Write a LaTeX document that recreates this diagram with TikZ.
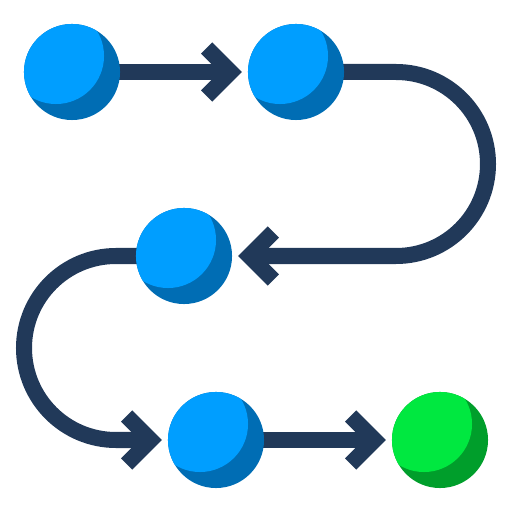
\documentclass[tikz,border=0pt]{standalone}
\usetikzlibrary{calc,backgrounds}
\definecolor{lblue}{RGB}{0,158,255}
\definecolor{dblue}{RGB}{0,109,180}
\definecolor{navy}{RGB}{33,57,89}
\definecolor{lgreen}{RGB}{0,232,64}
\definecolor{dgreen}{RGB}{0,158,43}
\begin{document}
\begin{tikzpicture}[x=0.01cm,y=0.01cm,
  ball/.style 2 args={circle, minimum size=0.96cm, inner sep=0pt, fill=#2,
    path picture={\fill[#1] ([xshift=-0.16cm,yshift=0.16cm]path picture bounding box.center) circle (0.48cm);}},
  conn/.style={draw=navy, line width=0.16cm, line cap=butt},
  chev/.style={draw=navy, line width=0.16cm, line cap=butt, line join=miter}]
\useasboundingbox (0,0) rectangle (512,512);
\node[ball={lblue}{dblue}] (c1) at (72,440) {};
\node[ball={lblue}{dblue}] (c2) at (296,440) {};
\node[ball={lblue}{dblue}] (c3) at (184,256) {};
\node[ball={lblue}{dblue}] (c4) at (216,72) {};
\node[ball={lgreen}{dgreen}] (c5) at (440,72) {};
\coordinate (v1) at ($(c2.west)+(-16.6,0)$);
\coordinate (v2) at ($(c3.east)+(16.6,0)$);
\coordinate (v3) at ($(c4.west)+(-16.6,0)$);
\coordinate (v4) at ($(c5.west)+(-16.6,0)$);
\begin{scope}[on background layer]
\draw[conn] (c1.center) -- (v1);
\draw[conn] (c2.center) -- (396,440) arc (90:-90:92) -- (v2);
\draw[conn] (c3.center) -- (116,256) arc (90:270:92) -- (v3);
\draw[conn] (c4.center) -- (v4);
\end{scope}
\draw[chev] ($(v1)+(-24,24)$) -- (v1) -- ($(v1)+(-24,-24)$);
\draw[chev] ($(v2)+(24,24)$) -- (v2) -- ($(v2)+(24,-24)$);
\draw[chev] ($(v3)+(-24,24)$) -- (v3) -- ($(v3)+(-24,-24)$);
\draw[chev] ($(v4)+(-24,24)$) -- (v4) -- ($(v4)+(-24,-24)$);
\end{tikzpicture}
\end{document}
